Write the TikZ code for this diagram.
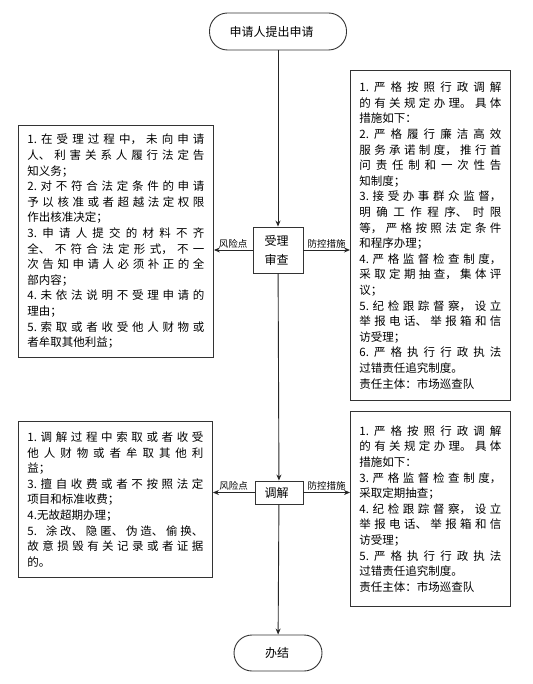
\documentclass[tikz,border=0pt]{standalone}
\usepackage{fontspec}
\newfontfamily\cjkfont{Noto Sans CJK SC}
\usetikzlibrary{arrows.meta,positioning}
\XeTeXlinebreaklocale "zh"
\XeTeXlinebreakskip=0pt plus 2pt
\newcommand{\spreadtext}[2]{\makebox[#1][s]{#2}}

\begin{document}
\begin{tikzpicture}[
    x=1pt, y=-1pt,
    >={Stealth[length=6pt, width=5pt]},
    every node/.style={font=\cjkfont},
    terminal/.style={
        draw=black!80, line width=0.9pt, rounded corners=18pt,
        minimum width=#1, minimum height=37pt, inner sep=0pt,
        font={\cjkfont\fontsize{12}{14}\selectfont}
    },
    stepbox/.style={
        draw=black!80, line width=0.9pt, inner sep=0pt, align=center,
        font={\cjkfont\fontsize{12}{19}\selectfont}
    },
    notebox/.style={
        draw=black!80, line width=0.9pt, align=justify, anchor=north west,
        text width=#1, inner xsep=9pt, inner ysep=0pt,
        font={\cjkfont\fontsize{11.5}{15.6}\selectfont\tolerance=10000\hbadness=10000}
    },
    flow/.style={->, line width=0.9pt, draw=black!85},
    tag/.style={font={\cjkfont\fontsize{9.5}{11}\selectfont}, inner sep=1.5pt},
]
\useasboundingbox (0,0) rectangle (532,684);

% ── Start / end ──
\node[terminal=137pt] (start) at (278,31.5) {\spreadtext{97pt}{申请人提出申请}};
\node[terminal=88pt, minimum height=36pt] (finish) at (278,653) {\spreadtext{26pt}{办结}};

% ── Steps ──
\node[stepbox, minimum width=50pt, minimum height=46pt] (review) at (278,250) {
    \spreadtext{27pt}{受理}\\\spreadtext{27pt}{审查}
};
\node[stepbox, minimum width=48pt, minimum height=23pt] (mediate) at (279,492.5) {
    \spreadtext{26pt}{调解}
};

% ── Risk points ──
\node[notebox=177pt, minimum height=232pt] (risk1) at (18,125) {
    1.在受理过程中，未向申请\linebreak
    人、利害关系人履行法定告\linebreak
    知义务；\\
    2.对不符合法定条件的申请\linebreak
    予以核准或者超越法定权限\linebreak
    作出核准决定；\\
    3.申请人提交的材料不齐\linebreak
    全、不符合法定形式，不一\linebreak
    次告知申请人必须补正的全\linebreak
    部内容；\\
    4.未依法说明不受理申请的\linebreak
    理由；\\
    5.索取或者收受他人财物或\linebreak
    者牟取其他利益；
};
\node[notebox=176pt, minimum height=156pt] (risk2) at (18,421) {
    1.调解过程中索取或者收受\linebreak
    他人财物或者牟取其他利\linebreak
    益；\\
    3.擅自收费或者不按照法定\linebreak
    项目和标准收费；\\
    4.无故超期办理；\\
    5. 涂改、隐匿、伪造、偷换、\linebreak
    故意损毁有关记录或者证据\linebreak
    的。
};

% ── Control measures ──
\node[notebox=142pt, minimum height=330pt] (ctrl1) at (350,70) {
    1.严格按照行政调解\linebreak
    的有关规定办理。具体\linebreak
    措施如下：\\
    2.严格履行廉洁高效\linebreak
    服务承诺制度，推行首\linebreak
    问责任制和一次性告\linebreak
    知制度；\\
    3.接受办事群众监督，\linebreak
    明确工作程序、时限\linebreak
    等，严格按照法定条件\linebreak
    和程序办理；\\
    4.严格监督检查制度，\linebreak
    采取定期抽查，集体评\linebreak
    议；\\
    5.纪检跟踪督察，设立\linebreak
    举报电话、举报箱和信\linebreak
    访受理；\\
    6.严格执行行政执法\linebreak
    过错责任追究制度。\\
    责任主体：市场巡查队
};
\node[notebox=142pt, minimum height=195pt] (ctrl2) at (350,411) {
    1.严格按照行政调解\linebreak
    的有关规定办理。具体\linebreak
    措施如下：\\
    3.严格监督检查制度，\linebreak
    采取定期抽查；\\
    4.纪检跟踪督察，设立\linebreak
    举报电话、举报箱和信\linebreak
    访受理；\\
    5.严格执行行政执法\linebreak
    过错责任追究制度。\\
    责任主体：市场巡查队
};

% ── Main flow ──
\draw[flow] (start) -- (review);
\draw[flow] (review) -- (mediate);
\draw[flow] (mediate) -- (finish);

% ── Side arrows ──
\draw[flow] (review.west) -- node[tag, above] {风险点} (review.west -| risk1.east);
\draw[flow] (review.east) -- node[tag, above] {防控措施} (review.east -| ctrl1.west);
\draw[flow] (mediate.west) -- node[tag, above] {风险点} (mediate.west -| risk2.east);
\draw[flow] (mediate.east) -- node[tag, above] {防控措施} (mediate.east -| ctrl2.west);

\end{tikzpicture}
\end{document}
